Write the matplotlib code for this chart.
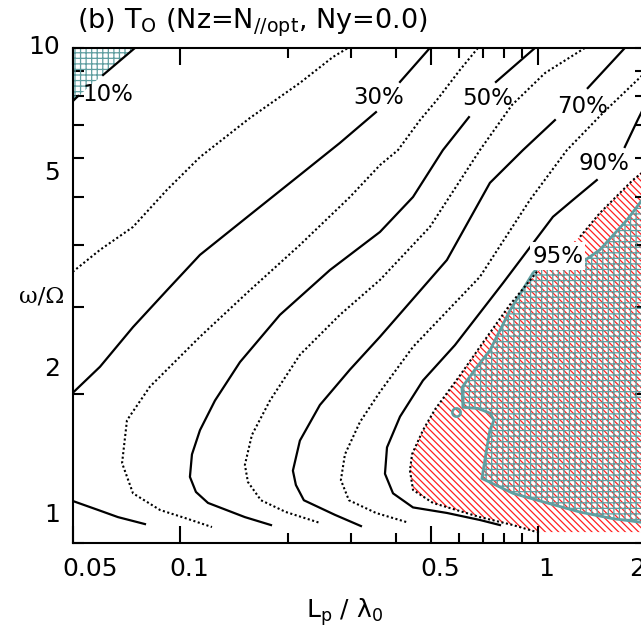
import matplotlib
matplotlib.use("Agg")
import matplotlib.pyplot as plt
from matplotlib.ticker import NullFormatter
from matplotlib.transforms import ScaledTranslation

plt.rcParams['font.family'] = ['DejaVu Sans']
plt.rcParams['mathtext.fontset'] = 'dejavusans'
plt.rcParams['hatch.linewidth'] = 0.9

# contour pieces of T_O, x = L_p/lambda_0, y = omega/Omega
t10_x = [[0.0746, 0.0608], [0.0518, 0.0500]]
t10_y = [[10.0, 8.82], [8.00, 7.81]]

t20_x = [[0.0500, 0.0596, 0.0737, 0.0917, 0.1134, 0.1563, 0.2157, 0.2668, 0.2938]]
t20_y = [[3.53, 3.91, 4.35, 5.17, 6.02, 7.22, 8.50, 9.59, 10.0]]

t30_x = [[0.0500, 0.0596, 0.0737, 0.0917, 0.1134, 0.1563, 0.2157, 0.2790, 0.3519],
         [0.4108, 0.4978],
         [0.0500, 0.0589, 0.0669, 0.0796]]
t30_y = [[2.01, 2.27, 2.73, 3.24, 3.82, 4.60, 5.54, 6.43, 7.42],
         [8.54, 10.0],
         [1.216, 1.166, 1.128, 1.092]]

t40_x = [[0.6782, 0.6041, 0.5208, 0.4671, 0.4055, 0.3611, 0.2976, 0.2157, 0.1563,
          0.1134, 0.0822, 0.0709, 0.0687, 0.0737, 0.0877, 0.1043, 0.1225]]
t40_y = [[10.0, 9.03, 7.85, 7.15, 6.22, 5.80, 5.00, 4.00, 3.24,
          2.61, 2.07, 1.77, 1.45, 1.26, 1.166, 1.12, 1.077]]

t50_x = [[0.9788, 0.7615],
         [0.6401, 0.5414, 0.4466, 0.3611, 0.2617, 0.1897, 0.1467, 0.1249,
          0.1134, 0.1077, 0.1063, 0.1105, 0.1194, 0.1514, 0.1791]]
t50_y = [[10.0, 8.54],
         [7.25, 6.22, 5.00, 4.25, 3.56, 2.89, 2.32, 1.94,
          1.69, 1.51, 1.36, 1.268, 1.205, 1.128, 1.087]]

t60_x = [[1.349, 1.044, 0.8441, 0.687, 0.4978, 0.3611, 0.279, 0.2157, 0.1779,
          0.1584, 0.1514, 0.1544, 0.1679, 0.1971, 0.2453]]
t60_y = [[10.0, 8.90, 7.67, 6.22, 4.35, 3.40, 2.89, 2.40, 1.94,
          1.653, 1.438, 1.328, 1.22, 1.155, 1.098]]

t70_x = [[1.745, 1.375],
         [1.1132, 0.9062, 0.7326, 0.5555, 0.3611, 0.2976, 0.2453, 0.2157,
          0.2062, 0.2102, 0.2213, 0.2702, 0.3195]]
t70_y = [[10.0, 8.30],
         [7.15, 6.22, 5.34, 3.73, 2.61, 2.24, 1.90, 1.61,
          1.40, 1.31, 1.22, 1.14, 1.082]]

t80_x = [[1.995, 1.515, 1.2024, 0.9473, 0.687, 0.4466, 0.3611, 0.3175, 0.2882,
          0.2808, 0.2957, 0.3519, 0.4324]]
t80_y = [[8.94, 7.39, 6.22, 4.93, 3.45, 2.49, 2.02, 1.756, 1.51,
          1.34, 1.22, 1.15, 1.10]]

t90_x = [[1.995, 1.8945, 1.745],
         [1.4574, 1.249, 1.099, 0.7967, 0.5848, 0.4762, 0.4108, 0.3778,
          0.3729, 0.3927, 0.4466, 0.5555, 0.687, 0.7814]]
t90_y = [[7.71, 7.15, 6.31],
         [5.41, 4.93, 4.56, 3.35, 2.51, 2.13, 1.80, 1.56,
          1.38, 1.26, 1.18, 1.15, 1.113, 1.087]]

t95_x = [[1.995, 1.8373, 1.4858, 1.3062],
         [1.0109, 0.8333, 0.7004, 0.6041, 0.5141, 0.4762, 0.4437, 0.438,
          0.4466, 0.5076, 0.687, 0.8497, 0.9915]]
t95_y = [[5.67, 5.41, 4.64, 4.15],
         [3.59, 3.03, 2.54, 2.18, 1.86, 1.69, 1.51, 1.40,
          1.28, 1.205, 1.128, 1.087, 1.052]]

# red hatched area (T > 95%)
red_x = [2.0, 1.8373, 1.4858, 1.3062, 1.15, 1.0109, 0.8333, 0.7004, 0.6041, 0.5141,
         0.4762, 0.4437, 0.438, 0.4466, 0.5076, 0.687, 0.8497, 0.9915, 2.0]
red_y = [5.75, 5.41, 4.64, 4.15, 3.87, 3.59, 3.03, 2.54, 2.18, 1.86,
         1.69, 1.51, 1.40, 1.28, 1.205, 1.128, 1.087, 1.052, 1.052]

# teal cross-hatched areas
teal_x = [2.0, 1.768, 1.4858, 1.3316, 1.1496, 1.0109, 0.9664, 0.8333, 0.7326, 0.6652,
          0.6119, 0.6159, 0.6782, 0.7326, 0.7517, 0.7326, 0.7187, 0.6959, 0.8497,
          1.0575, 1.3062, 1.6157, 2.0]
teal_y = [5.05, 4.49, 3.91, 3.70, 3.70, 3.63, 3.51, 2.95, 2.45, 2.24,
          2.06, 1.88, 1.87, 1.83, 1.77, 1.69, 1.56, 1.35, 1.26,
          1.205, 1.155, 1.12, 1.098]
corner_x = [0.05, 0.0746, 0.0608, 0.0566, 0.0531, 0.05]
corner_y = [10.0, 10.0, 8.82, 8.46, 8.11, 7.74]
dot_x = [0.5887]
dot_y = [1.84]

lab_text = ['10%', '30%', '50%', '70%', '90%', '95%']
lab_x = [0.0628, 0.3586, 0.7228, 1.3316, 1.5245, 1.134]
lab_y = [8.04, 7.96, 7.92, 7.60, 5.83, 3.80]

x_major = [0.05, 0.1, 0.5, 1, 2]
x_labels = ['0.05', '0.1', '0.5', '1', '2']
x_minor = [0.2, 0.3, 0.4, 0.6, 0.7, 0.8, 0.9]
y_major = [1, 2, 5, 10]
y_labels = ['1', '2', '5', '10']
y_minor = [3, 4, 6, 7, 8, 9]

# label shifts in pixels, as in the original figure
x_shift = [17, 9, 10, 8, -9]
y_shift = [30, 27, 27, 4]

teal = '#5f9ea0'
red = '#ff2020'

fig = plt.figure(figsize=(6.41, 6.34), dpi=100)
ax = fig.add_axes([72.7 / 641, 91 / 634, 573.3 / 641, 495 / 634])
ax.set_xscale('log')
ax.set_yscale('log')
ax.set_xlim(0.05, 2.0)
ax.set_ylim(1.0, 10.0)

ax.fill(red_x, red_y, facecolor='none', edgecolor=red, hatch='\\\\\\\\\\', linewidth=0, zorder=1)
ax.fill(teal_x, teal_y, facecolor='none', edgecolor=teal, hatch='+++', linewidth=2.0, zorder=2)
ax.fill(corner_x, corner_y, facecolor='none', edgecolor=teal, hatch='+++', linewidth=0, zorder=2)
ax.plot(dot_x, dot_y, 'o', mfc='none', mec=teal, ms=6, mew=1.8, zorder=2)


def draw_level(xs, ys, solid):
    for px, py in zip(xs, ys):
        if solid:
            ax.plot(px, py, color='black', lw=1.6, zorder=3)
        else:
            ax.plot(px, py, color='black', lw=1.5, ls=(0, (1, 1.2)), zorder=3)


draw_level(t10_x, t10_y, True)
draw_level(t20_x, t20_y, False)
draw_level(t30_x, t30_y, True)
draw_level(t40_x, t40_y, False)
draw_level(t50_x, t50_y, True)
draw_level(t60_x, t60_y, False)
draw_level(t70_x, t70_y, True)
draw_level(t80_x, t80_y, False)
draw_level(t90_x, t90_y, True)
draw_level(t95_x, t95_y, False)

for txt, lx, ly in zip(lab_text, lab_x, lab_y):
    box = None
    if txt == '95%':
        box = dict(facecolor='white', edgecolor='none', pad=1.5)
    ax.text(lx, ly, txt, fontsize=16.5, ha='center', va='center', zorder=4, bbox=box)

ax.set_xticks(x_major, labels=x_labels)
ax.set_xticks(x_minor, minor=True)
ax.set_yticks(y_major, labels=y_labels)
ax.set_yticks(y_minor, minor=True)
ax.xaxis.set_minor_formatter(NullFormatter())
ax.yaxis.set_minor_formatter(NullFormatter())

ax.tick_params(which='both', direction='in', top=True, right=True, width=1.5)
ax.tick_params(axis='both', which='major', labelsize=18)
ax.tick_params(axis='x', which='major', length=12, pad=10)
ax.tick_params(axis='x', which='minor', length=7)
ax.tick_params(axis='y', which='major', length=8, pad=9)
ax.tick_params(axis='y', which='minor', length=8)
for sp in ax.spines.values():
    sp.set_linewidth(1.5)

for lab, dx in zip(ax.get_xticklabels(), x_shift):
    lab.set_transform(lab.get_transform() + ScaledTranslation(dx / 100, 0, fig.dpi_scale_trans))
for lab, dy in zip(ax.get_yticklabels(), y_shift):
    lab.set_transform(lab.get_transform() + ScaledTranslation(0, dy / 100, fig.dpi_scale_trans))

ax.set_xlabel(r'L$_\mathrm{p}$ / λ$_0$', fontsize=18)
ax.xaxis.set_label_coords(0.475, -0.14)
ax.xaxis.label.set_va('center')
ax.set_ylabel('ω/Ω', rotation=0, fontsize=16.5, family='DejaVu Serif')
ax.yaxis.set_label_coords(-0.0535, 0.497)
ax.yaxis.label.set_ha('center')
ax.yaxis.label.set_va('center')

ax.text(0.0075, 1.0505, r'(b) T$_\mathrm{O}$ (Nz=N$_{//\mathrm{opt}}$, Ny=0.0)',
        transform=ax.transAxes, fontsize=19.5, ha='left', va='center')

fig.savefig('out.png', dpi=100)
